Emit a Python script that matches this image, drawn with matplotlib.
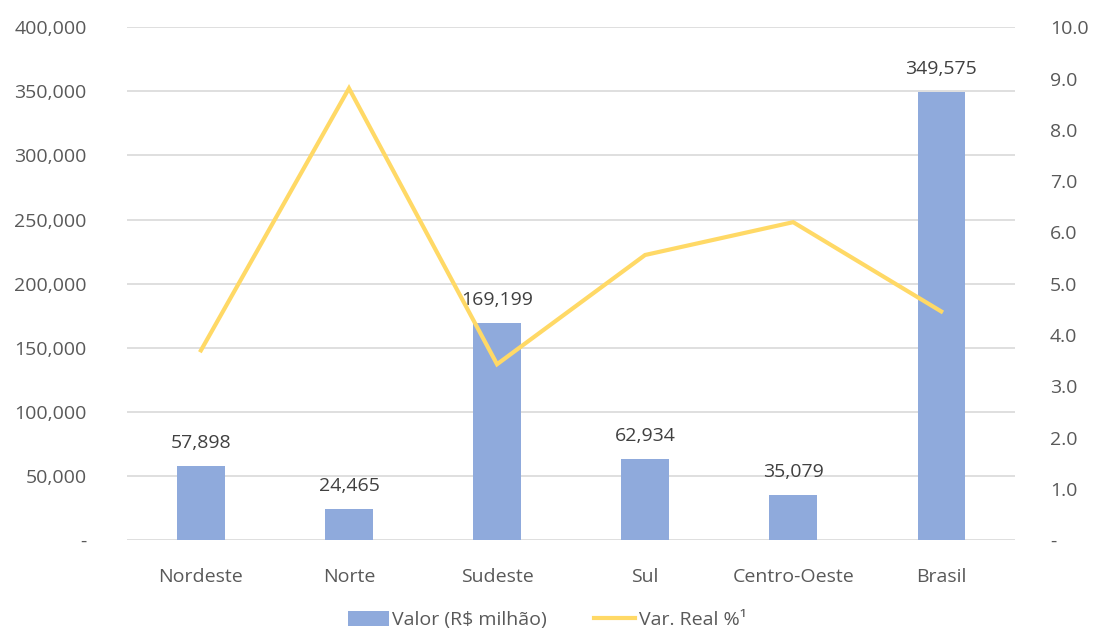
import matplotlib.pyplot as plt
from matplotlib.ticker import FuncFormatter

plt.rcParams['font.family'] = ['Open Sans', 'DejaVu Sans']

regioes = ['Nordeste', 'Norte', 'Sudeste', 'Sul', 'Centro-Oeste', 'Brasil']
valor = [57898, 24465, 169199, 62934, 35079, 349575]
var_real = [3.70, 8.81, 3.43, 5.56, 6.20, 4.46]

bar_color = '#8FAADC'
line_color = '#FFD966'
text_color = '#595959'

fig = plt.figure(figsize=(10.94, 6.34), dpi=100)
ax = fig.add_axes([0.116, 0.148, 0.812, 0.809])
ax2 = ax.twinx()

x = range(len(regioes))
ax.bar(x, valor, width=0.32, color=bar_color, zorder=2, label='Valor (R$ milhão)')
for xi, v in zip(x, valor):
    ax.text(xi, v + 11000, f'{v:,}', ha='center', va='bottom', fontsize=14, color='#404040')

ax2.plot(x, var_real, color=line_color, linewidth=3, solid_joinstyle='miter',
         label='Var. Real %\u00b9', zorder=3)

ax.set_xlim(-0.5, len(regioes) - 0.5)
ax.set_ylim(0, 400000)
ax.set_yticks(range(0, 400001, 50000))
ax.yaxis.set_major_formatter(FuncFormatter(lambda v, p: '-' if v == 0 else f'{int(v):,}'))
ax2.set_ylim(0, 10)
ax2.set_yticks(range(0, 11))
ax2.yaxis.set_major_formatter(FuncFormatter(lambda v, p: '-' if v == 0 else f'{v:.1f}'))

ax.set_xticks(list(x))
ax.set_xticklabels(regioes)
ax.grid(axis='y', color='#D9D9D9', linewidth=1.2, zorder=0)
ax.set_axisbelow(True)

for a in (ax, ax2):
    for s in a.spines.values():
        s.set_visible(False)
    a.tick_params(length=0, labelsize=14, colors=text_color)
ax.tick_params(axis='y', pad=29)
ax.tick_params(axis='x', pad=20)
ax2.tick_params(axis='y', pad=25)

h1, l1 = ax.get_legend_handles_labels()
h2, l2 = ax2.get_legend_handles_labels()
fig.legend(h1 + h2, l1 + l2, loc='lower center', bbox_to_anchor=(0.5, -0.02), ncol=2,
           frameon=False, fontsize=14, labelcolor=text_color, handlelength=2.1,
           handleheight=0.8, columnspacing=2.4, handletextpad=0.2)

fig.savefig('out.png', dpi=100)
